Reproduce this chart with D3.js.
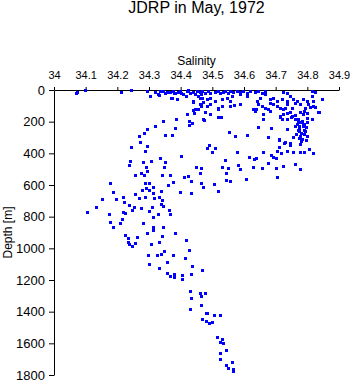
<!DOCTYPE html>
<html>
<head>
<meta charset="utf-8">
<script src="https://cdn.jsdelivr.net/npm/d3@7"></script>
<style>
  body { margin: 0; background: #fff; }
  svg { display: block; font-family: "Liberation Sans", Arial, sans-serif; }
  .axis path, .axis line { stroke: #000; }
  .axis text { fill: #000; }
</style>
</head>
<body>
<div id="chart"></div>
<script>
// salinity / depth [m] pairs, grouped by depth band
var surfaceLayer = [
  [34.070,20],[34.074,10],[34.097,2],[34.211,13],[34.244,2],
  [34.295,8],[34.303,40],[34.319,15],[34.329,27],[34.332,32],[34.335,6],[34.344,6],[34.350,19],
  [34.356,10],[34.366,12],[34.368,50],[34.372,48],[34.377,5],[34.379,16],[34.382,20],[34.387,59],
  [34.392,10],[34.398,4],[34.401,20],[34.407,25],[34.418,40],[34.419,8],[34.423,2],[34.429,19],
  [34.440,13],[34.445,25],[34.451,6],[34.456,38],[34.460,50],[34.461,14],[34.464,28],[34.466,48],
  [34.466,8],[34.477,16],[34.482,59],[34.487,6],[34.493,48],[34.493,18],[34.508,10],[34.519,4],
  [34.524,20],[34.529,59],[34.535,12],[34.540,6],[34.545,48],[34.550,18],[34.556,8],[34.561,38],
  [34.566,14],[34.577,5],[34.587,27],[34.587,12],[34.598,8],[34.608,38],[34.608,16],[34.619,6],
  [34.635,14],[34.645,8],[34.650,48],[34.656,18],[34.666,27],[34.666,6],[34.724,10],[34.735,16],
  [34.745,38],[34.814,38],[34.814,6],[34.824,12]
];

var upperLayer = [
  [34.440,70],[34.508,70],[34.556,70],[34.640,70],[34.682,59],[34.692,48],[34.703,70],[34.719,59],
  [34.735,70],[34.756,59],[34.766,70],[34.787,59],[34.798,70],[34.819,70],[34.845,59],
  [34.440,76],[34.470,78],[34.464,101],[34.440,125],[34.442,147],[34.455,122],[34.419,150],[34.471,185],
  [34.445,122],[34.461,91],[34.482,101],[34.493,91],[34.519,112],[34.529,101],[34.556,101],[34.587,91],
  [34.629,122],[34.645,91],[34.666,112],[34.677,122],[34.682,80],[34.692,91],[34.703,101],[34.714,112],
  [34.724,122],[34.735,91],[34.751,112],[34.761,80],[34.777,91],[34.793,112],[34.803,91],[34.819,101],
  [34.835,139],[34.519,171],[34.661,154],[34.661,185],[34.714,164],[34.724,154],[34.735,143],[34.751,164],
  [34.761,185],[34.771,185],[34.787,154],[34.798,175],[34.735,185],[34.474,188],[34.719,183],[34.493,152],
  [34.478,141],[34.526,169],[34.635,131],[34.682,131],[34.745,141],[34.777,141],[34.798,147],[34.838,141],
  [34.714,173],[34.748,173],[34.782,194],[34.798,179],[34.814,185],[34.464,88],[34.519,120],[34.569,97],
  [34.637,120],[34.656,99],[34.729,114],[34.808,109],[34.824,106],[34.345,198],[34.386,185],[34.427,196],
  [34.800,200],[34.760,160],[34.790,130]
];

var middleLayer = [
  [34.436,209],[34.425,223],[34.319,229],[34.382,242],[34.295,245],[34.285,272],[34.269,293],[34.351,286],
  [34.374,286],[34.272,327],[34.766,215],[34.787,219],[34.773,240],[34.796,236],[34.645,236],[34.684,242],
  [34.735,246],[34.554,264],[34.773,261],[34.793,257],[34.572,293],[34.608,284],[34.677,295],[34.756,299],
  [34.777,289],[34.800,293],[34.782,310],[34.711,312],[34.729,331],[34.745,337],[34.779,324],[34.710,316],
  [34.726,337],[34.745,346],[34.777,341],[34.710,358],[34.490,349],[34.484,368],[34.508,368],[34.499,394],
  [34.578,394],[34.659,394],[34.705,387],[34.717,400],[34.737,387],[34.756,394],[34.777,394],[34.790,392],
  [34.806,375],[34.819,400],[34.244,362],[34.295,356],[34.286,386],
  [34.770,200],[34.780,205],[34.790,212],[34.775,225],[34.785,230],[34.770,250],[34.790,250],
  [34.780,270],[34.765,275],[34.790,280],[34.775,305],[34.795,315],[34.760,230]
];

var intermediateLayer = [
  [34.617,422],[34.684,413],[34.691,425],[34.701,432],[34.639,432],[34.632,438],[34.541,444],[34.677,463],
  [34.761,470],[34.530,485],[34.581,476],[34.629,489],[34.658,495],[34.701,495],[34.724,482],[34.778,497],
  [34.549,495],[34.543,526],[34.588,501],[34.607,561],[34.705,552],[34.544,571],[34.557,577],[34.506,596],
  [34.518,640],[34.335,432],[34.402,417],[34.241,451],[34.238,472],[34.281,453],[34.306,451],[34.351,457],
  [34.290,489],[34.347,489],[34.295,510],[34.276,526],[34.256,535],[34.284,539],[34.342,535],[34.366,539],
  [34.411,552],[34.424,544],[34.447,485],[34.465,495],[34.461,526],[34.177,590],[34.287,590],[34.301,590],
  [34.377,580],[34.359,599],[34.432,577],[34.465,590],[34.470,611],[34.290,621],[34.314,613],[34.279,634],
  [34.300,634],[34.337,640],[34.399,647],[34.434,653],[34.187,645],[34.255,659],[34.314,651],[34.218,676],
  [34.286,674],[34.331,674],[34.317,683],[34.151,689],[34.197,691],[34.268,684],[34.222,706],[34.340,697],
  [34.337,722],[34.344,735],[34.238,729],[34.254,737],[34.132,741],[34.276,748],[34.310,741],[34.364,758],
  [34.247,756],[34.301,765],[34.105,773],[34.219,769],[34.224,779],[34.175,786],[34.329,784],[34.367,786]
];

var deepLayer = [
  [34.314,805],[34.216,815],[34.178,832],[34.209,841],[34.185,868],[34.282,841],[34.313,868],[34.343,868],
  [34.314,887],[34.225,916],[34.295,906],[34.342,925],[34.383,906],[34.234,937],[34.263,929],[34.234,959],
  [34.238,973],[34.247,984],[34.257,967],[34.307,975],[34.331,963],[34.418,946],[34.347,1018],[34.425,1011],
  [34.339,1036],[34.326,1041],[34.377,1043],[34.298,1045],[34.415,1064],[34.358,1089],[34.301,1102],
  [34.332,1123],[34.436,1114],[34.468,1136],[34.356,1157],[34.367,1174],[34.380,1161],[34.380,1182],
  [34.405,1171],[34.434,1165],[34.405,1193]
];

var bottomLayer = [
  [34.430,1272],[34.462,1285],[34.478,1279],[34.465,1304],[34.434,1313],[34.430,1380],[34.464,1361],
  [34.479,1411],[34.484,1411],[34.505,1424],[34.524,1424],[34.466,1449],[34.479,1462],[34.490,1473],
  [34.500,1466],[34.516,1557],[34.531,1572],[34.524,1593],[34.533,1601],[34.544,1641],[34.525,1658],
  [34.563,1715],[34.525,1700],[34.544,1738],[34.548,1757],[34.566,1761],[34.564,1772]
];

var salinityTicks = [34, 34.1, 34.2, 34.3, 34.4, 34.5, 34.6, 34.7, 34.8, 34.9];
var depthTicks = [0, 200, 400, 600, 800, 1000, 1200, 1400, 1600, 1800];

var titleText = "JDRP in May, 1972",
    xLabel = "Salinity",
    yLabel = "Depth [m]";

var width = 353, height = 384;
var margin = { left: 54, right: 14, top: 90, bottom: 9 };
var figw = width - margin.left - margin.right,
    figh = height - margin.top - margin.bottom;

var data = [].concat(surfaceLayer, upperLayer, middleLayer, intermediateLayer, deepLayer, bottomLayer);

var xScale = d3.scaleLinear().domain([34, 34.9]).range([0, figw]);
var yScale = d3.scaleLinear().domain([0, 1800]).range([0, figh]);

var svg = d3.select("#chart").append("svg")
    .attr("width", width)
    .attr("height", height);

var g = svg.append("g")
    .attr("transform", "translate(" + margin.left + "," + margin.top + ")");

// title and x label sit above the top axis
svg.append("text")
    .attr("x", margin.left + figw / 2)
    .attr("y", 13)
    .attr("text-anchor", "middle")
    .style("font-size", "16px")
    .text(titleText);

svg.append("text")
    .attr("x", margin.left + figw / 2)
    .attr("y", 65)
    .attr("text-anchor", "middle")
    .style("font-size", "12px")
    .text(xLabel);

svg.append("text")
    .attr("transform", "translate(12," + (margin.top + figh / 2) + ") rotate(-90)")
    .attr("text-anchor", "middle")
    .style("font-size", "12px")
    .text(yLabel);

g.append("g")
    .attr("class", "x axis")
    .call(d3.axisTop(xScale)
      .tickValues(salinityTicks)
      .tickFormat(function(d){ return String(+d.toFixed(1)); })
      .tickSize(3)
      .tickSizeOuter(0)
      .tickPadding(8))
    .style("font-size", "11px")
    .style("font-family", null);

g.append("g")
    .attr("class", "y axis")
    .call(d3.axisLeft(yScale)
      .tickValues(depthTicks)
      .tickFormat(d3.format("d"))
      .tickSize(5)
      .tickSizeOuter(0)
      .tickPadding(4))
    .style("font-size", "13px")
    .style("font-family", null);

// points: small filled squares
g.selectAll(".pt")
    .data(data)
  .enter().append("rect")
    .attr("class", "pt")
    .attr("x", function(d){ return Math.round(xScale(d[0])) - 1; })
    .attr("y", function(d){ return Math.round(yScale(d[1])) - 1; })
    .attr("width", 3)
    .attr("height", 3)
    .attr("fill", "#0000ff")
    .attr("shape-rendering", "crispEdges");
</script>
</body>
</html>
